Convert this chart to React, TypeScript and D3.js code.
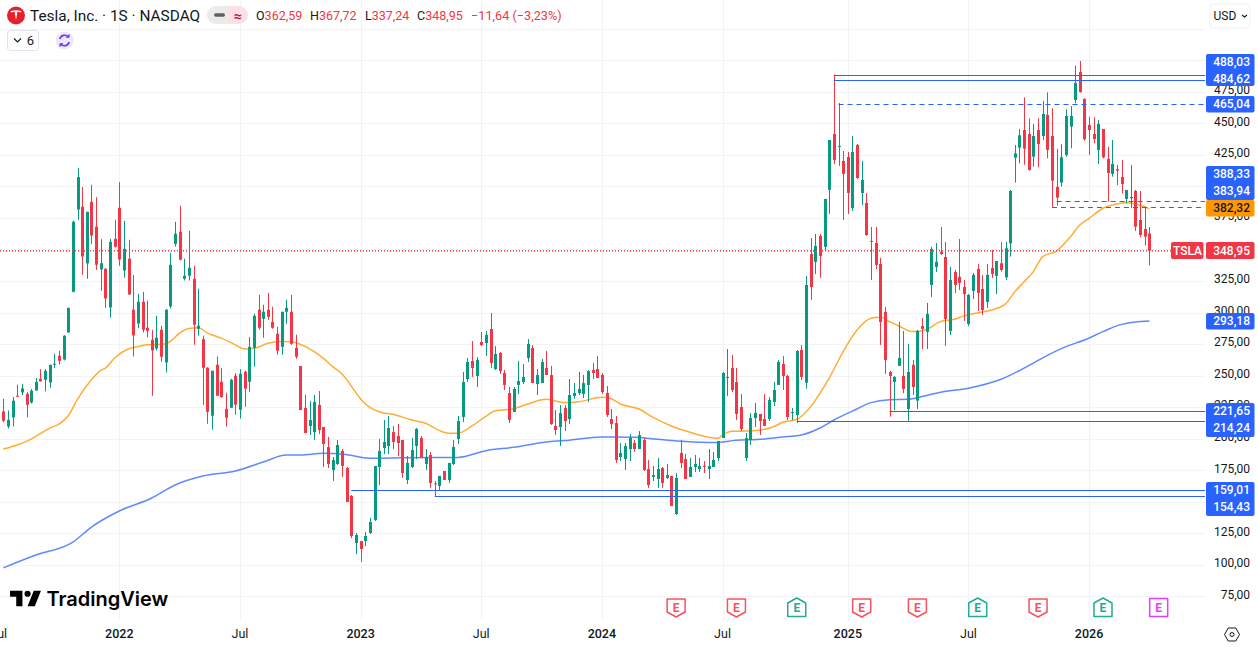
import React from "react";
import * as d3 from "d3";

// weekly TSLA bars, [open, high, low, close]
const candles: number[][] = [
  [221.6, 231.6, 213.1, 214.2], [209.7, 222.4, 208.1, 215], [216.9, 233, 209.7, 230.1], [234, 242.7, 233.5, 233.5],
  [236.7, 243.5, 234.5, 239.8], [235.6, 236.9, 216.9, 226.9], [228.7, 239.3, 227.9, 238], [238.2, 248, 238.2, 245.1],
  [247.5, 255.1, 245.4, 245.4], [246.7, 255.1, 237.5, 253.8], [244.6, 258.6, 240.4, 258.6], [258.8, 267.3, 255.9, 259.4],
  [265.7, 269.7, 258.8, 261.7], [262.8, 281.9, 262, 281.6], [284.2, 303.7, 284, 303.7], [316.4, 372.7, 315.9, 371.9],
  [381.6, 414.4, 373.5, 407.3], [383.8, 399.3, 329.9, 344.4], [338.9, 379.8, 326.7, 379.8], [387.7, 401.2, 354.4, 361],
  [367.9, 391.4, 333.8, 337.8], [334.1, 358.1, 317.2, 339.1], [334.6, 335.2, 303.7, 311.1], [304, 358.4, 295.8, 356],
  [358.4, 373.5, 351.5, 352.1],
  // 2022
  [383, 403.3, 337, 342], [333.3, 372.7, 327.5, 350.5], [342.6, 357.6, 314, 314.3], [302.2, 329.6, 265.2, 281.8],
  [291.3, 314.8, 287.6, 308.5], [308.5, 316.4, 284.2, 286.3], [287.9, 309.3, 280.2, 285.5], [278.4, 286.3, 234, 269.9],
  [271.5, 297.4, 269.9, 280], [286.3, 289.5, 260.9, 264.9], [260.4, 302.7, 252.5, 302.2], [304.8, 347.3, 303.2, 337.8],
  [354.4, 371.9, 352.3, 362.4], [364, 384.6, 341.2, 341.8], [326.7, 342.6, 325.4, 329.1], [329.1, 364.7, 325.4, 335.4],
  [326.7, 337, 274.4, 290.3], [287.1, 318.8, 281.6, 289.5], [278.9, 281.6, 226.9, 256.2], [256.2, 256.7, 211.8, 221.3],
  [218.2, 253.8, 207.1, 253.8], [258.6, 265.2, 234, 234], [245.1, 255.9, 232.4, 233], [223.7, 236.4, 209.5, 216.6],
  [224.5, 247.5, 224.5, 246.7], [249.9, 252, 219, 226.9], [222.9, 255.1, 216, 251.4], [253, 253.8, 225.3, 239.6],
  [245.1, 280.5, 237.2, 272.8], [272, 299, 257, 297.4], [302.2, 314, 286.3, 287.9], [295, 306.1, 280, 300.6],
  [302.2, 315.6, 294.2, 296.6], [292.6, 304.5, 287.1, 287.9], [283.1, 288.7, 266.5, 269.7], [272.8, 300.6, 266.5, 300.6],
  [300.6, 310.1, 291.1, 303.7], [300.6, 314, 274.4, 275.2], [272, 282.4, 263.3, 264.9], [257.6, 257.6, 222.7, 222.7],
  [224.3, 234.9, 204.3, 204.5], [210.1, 229.9, 203, 214.8], [205.3, 234.6, 199, 229.1], [226.7, 237.8, 203.7, 206.9],
  [209.3, 209.3, 177.6, 195.8], [193.4, 201.4, 176.8, 180], [175.2, 185.5, 166.5, 183.1], [180, 199, 179.2, 195],
  [190.3, 191.8, 169.7, 178.4], [176.8, 177.6, 149.9, 149.9], [154.6, 155.4, 121.3, 122.9], [117.4, 125.3, 108.7, 123.7],
  // 2023
  [118.9, 118.9, 102.3, 112.6], [118.9, 126.1, 115, 122.9], [125.3, 137.2, 124.5, 134], [135.6, 178.4, 134.8, 178.4],
  [177.6, 199.8, 163.3, 190.3], [192.6, 214.8, 187.9, 197.4], [194.2, 218, 187.9, 208.5], [205.3, 210.1, 191.8, 197.4],
  [202.2, 211.7, 186.3, 196.6], [199, 199, 168.9, 172.8], [167.3, 186.3, 164.1, 180.8], [177.6, 200.6, 176.8, 191],
  [194.2, 208.5, 183.9, 207.7], [200.6, 202.2, 184.7, 184.7], [180, 191.8, 175.2, 185.5], [187.1, 189.5, 161, 164.9],
  [164.6, 166.5, 154.4, 164.1], [162.5, 170.5, 159.4, 170.5], [174.4, 174.4, 167.3, 167.3], [167.3, 180.8, 164.9, 180.8],
  [180, 199, 179.2, 193.4], [199.8, 218, 195.8, 214], [217.2, 252.9, 213.2, 244.9], [247.3, 263.9, 244.9, 260.8],
  [261.6, 277.4, 248.9, 256], [249.7, 264.7, 241, 262.4], [276.6, 284.5, 273.4, 274.2], [275.8, 285.3, 265.5, 282.2],
  [286.9, 299.6, 256, 260], [255.2, 273.4, 254.4, 267.1], [267.9, 268.7, 251.3, 253.6], [252.1, 254.4, 238.6, 242.6],
  [236.2, 241, 212.4, 214.8], [221.2, 241, 221.2, 239.4], [242.6, 261.6, 235.4, 245.7], [244.9, 259.2, 243.3, 248.9],
  [263.9, 279, 260.8, 275], [271.9, 274.2, 244.1, 244.1], [243.3, 255.2, 234.6, 250.5], [244.1, 263.2, 244.1, 260.8],
  [256, 269.5, 250.5, 250.5], [250.5, 257.6, 210.9, 211.7], [210.1, 222.7, 203, 206.9], [209.3, 226.7, 194.2, 220.4],
  [224.3, 226.7, 206.1, 214], [215.6, 247.3, 211.7, 234.6], [233.8, 244.1, 231.5, 236.2], [236.2, 252.9, 234.6, 239.4],
  [235.4, 250.5, 232.3, 244.1], [242.6, 254.4, 229.1, 253.6], [254.4, 260, 247.3, 252.1], [255.2, 265.5, 248.1, 248.1],
  // 2024
  [250.5, 252.1, 235.4, 237], [236.2, 241.8, 217.2, 218.8], [215.6, 223.5, 207.7, 211.7], [212.4, 218, 180.8, 183.1],
  [185.5, 196.6, 182.3, 188.7], [183.9, 196.6, 175.2, 194.2], [191.8, 203.7, 182.3, 200.6], [196.6, 199, 189.5, 191.8],
  [191.8, 206.1, 191.8, 202.9], [199, 200.6, 174.4, 175.2], [176, 183.1, 161, 163.3], [169.7, 178.4, 166.5, 171.2],
  [168.1, 184.7, 161, 176], [176.8, 177.6, 161, 164.9], [168.9, 180, 168.1, 171.2], [170.5, 170.5, 146.7, 146.7],
  [140.3, 172.8, 139.6, 168.9], [188.7, 199, 176.8, 180.8], [183.9, 187.9, 168.1, 168.1], [169.7, 184.7, 169.7, 177.6],
  [177.6, 187.1, 173.6, 180], [176, 184.7, 173.6, 178.4], [178.4, 182.3, 172.8, 177.9], [176, 191.8, 168.1, 178.4],
  [177.6, 189.5, 177.6, 183.1], [184.7, 198.2, 182.3, 198.2], [200.6, 252.9, 200.6, 252.1], [248.1, 271.1, 233.8, 248.9],
  [256, 266.3, 237, 238.6], [244.9, 256, 214.8, 219.6], [225.1, 235.4, 206.1, 207.7], [184.7, 204.5, 182.3, 200.6],
  [199, 220.4, 195, 216.4], [216.4, 228.3, 209.3, 220.4], [219.6, 219.6, 203, 214], [215.6, 235.4, 210.1, 210.1],
  [215.6, 233, 214, 230.7], [229.1, 244.9, 225.9, 238.6], [242.6, 262.4, 242.6, 260.8], [259.2, 265.5, 238.6, 249.7],
  [249.7, 250.5, 214.8, 217.2], [220.4, 224.3, 214.8, 221.2], [218.8, 270.3, 212.4, 269.5], [270.3, 274.2, 246.5, 248.9],
  [244.4, 328.9, 239.7, 321.8], [346.4, 359.1, 310, 320.2], [340.1, 362.2, 330.5, 352.7], [360.7, 362.2, 327.4, 344.8],
  [352, 390, 348.8, 390], [397.1, 436.7, 378.1, 436.7], [441.5, 488.5, 417.7, 420.9], [431.2, 466, 416.1, 432],
  [420.1, 428, 373.3, 409.8],
  // 2025
  [423.2, 427.2, 378.1, 394.7], [382.8, 439.9, 380.5, 427.2], [432.8, 433.5, 405.8, 406.6], [394.7, 420.1, 385.2, 405],
  [386.8, 394.7, 360.7, 361.4], [356.7, 367.8, 325.8, 355.9], [355.1, 367.8, 334.5, 337.7], [338.5, 343.2, 274.3, 292.5],
  [300.4, 304.4, 251.3, 262.4], [252.9, 253.7, 217.5, 249.7], [245, 249.7, 222.8, 248.9], [257.7, 292.5, 257.7, 264],
  [249.7, 285.4, 236, 239.4], [223.6, 275.1, 214.24, 252.9], [258.5, 262.4, 234.7, 241], [230.2, 286.2, 223.6, 285.4],
  [289.3, 295.7, 271.1, 287], [284.6, 307.6, 271.1, 298.9], [321.8, 351.9, 312.3, 350.4], [336.1, 355.1, 332.1, 340.1],
  [348, 367.8, 345.6, 346.4], [344, 355.9, 273.5, 294.9], [285.4, 336.1, 282.2, 325.8], [332.1, 333.7, 315.5, 321.8],
  [328.2, 358.3, 317.9, 323.4], [320.2, 325.8, 293.3, 314.7], [290.9, 314.7, 289.3, 313.9], [317.1, 331.3, 310.7, 329.8],
  [334.5, 338.5, 301.2, 315.5], [318.7, 329.8, 298, 302], [308.4, 338.5, 303.6, 329.8], [335.3, 349.6, 327.4, 330.6],
  [329, 340.8, 314.7, 340.8], [339, 355.6, 332.4, 333.7], [327.9, 356.1, 325.8, 350.9], [354.8, 397.1, 344.3, 396.3],
  [422.7, 432.7, 402.9, 426.1], [430.6, 445.4, 418.2, 440.4], [444.6, 470.5, 417.1, 429.8], [441.4, 453.9, 412.4, 412.9],
  [423.5, 449.4, 415.6, 439.9], [444.6, 453.9, 415, 433.5], [439.9, 467.6, 436.7, 457.3], [456.5, 474.5, 422.2, 428.8],
  [439.9, 461.8, 383.9, 404.5], [399.5, 429.6, 384.7, 391], [402.9, 433.3, 399.7, 423], [424.8, 461, 423.5, 455.7],
  [447.3, 463.6, 430.1, 455.7], [468.4, 495.6, 465.7, 481.9], [490.6, 499.3, 474.2, 474.7], [469.2, 469.7, 436.2, 437.2],
  // 2026
  [448.6, 455.2, 424.8, 444.6], [441.4, 454.7, 434.1, 437.5], [428.8, 452.5, 417.7, 449.4], [445.4, 445.4, 422.2, 423],
  [421.6, 431.4, 387.8, 410.5], [409.8, 436.7, 407.6, 417.7], [413.5, 416.9, 401, 412.4], [407.4, 420.8, 394.4, 401.8],
  [390, 397.1, 386.5, 397.1], [390.5, 416.9, 382.6, 391.5], [396.3, 397.1, 364.6, 368], [373.3, 396.3, 359.6, 361.4],
  [366.2, 383.9, 353, 360.1], [362.59, 367.72, 337.24, 348.95],
];

// moving averages sampled along the curve, [bar, value]
const ma50Points: number[][] = [
  [0, 191.8], [3, 195], [6, 199.7], [10, 208.4], [12, 211.6], [14, 218.2], [16, 231.4], [19, 246.7], [21, 254.1],
  [22, 255.9], [24, 263.9], [27, 271.3], [29, 273.1], [31, 274.4], [35, 275], [36, 277.1], [38, 283.7], [40, 287.4],
  [42, 287.9], [44, 283.7], [47, 279.7], [50, 274.4], [52, 271], [55, 272.6], [57, 275.7], [60, 277.1], [62, 276.8],
  [64, 274.8], [67, 269], [69, 263.7], [71, 257.1], [73, 251.3], [76, 236.5], [77, 231.5], [79, 224.9], [81, 221.4],
  [84, 219.3], [88, 214.8], [91, 212.2], [94, 206.4], [96, 204.3], [98, 204.3], [101, 210.1], [104, 217.7], [106, 222.2],
  [110, 223.8], [113, 227.5], [117, 231.2], [121, 228.6], [124, 229.3], [129, 232.8], [131, 231.7], [133, 227.5],
  [137, 223.5], [140, 216.9], [144, 210.1], [148, 205.1], [152, 201.1], [154, 200.3], [155, 203], [157, 205.9],
  [160, 206.1], [164, 207.4], [166, 209.5], [168, 213], [171, 215.3], [174, 225.4], [176, 236], [178, 248], [181, 269],
  [184, 286.1], [187, 295.4], [189, 296.2], [191, 292.7], [193, 289.3], [196, 284.9], [197, 284.9], [199, 286.7],
  [202, 292.8], [205, 294.6], [207, 297.3], [211, 300.4], [213, 302], [216, 306.8], [218, 316.5], [220, 324.4],
  [222, 332.4], [224, 344.3], [227, 348.7], [230, 360.1], [232, 369.3], [234, 374.6], [237, 382.6], [240, 386],
  [242, 387], [244, 386], [247, 382.32],
];
const ma200Points: number[][] = [
  [0, 97.6], [7, 107.8], [15, 118.1], [19, 130], [25, 142.7], [32, 153], [37, 163.3], [43, 170.4], [50, 174.4], [56, 181.5],
  [61, 187.1], [64, 187.1], [69, 188.4], [73, 187.9], [79, 184.5], [86, 185], [93, 185.2], [98, 185.2], [104, 190.5],
  [110, 193.2], [117, 197.4], [121, 198.5], [129, 201.4], [136, 201.1], [141, 199.5], [147, 197.7], [153, 196.9],
  [158, 198.7], [163, 199.5], [168, 201.4], [172, 203], [176, 208.5], [179, 214.8], [183, 221.9], [187, 228.6],
  [191, 230.9], [195, 231.2], [198, 233.4], [202, 236.8], [208, 240], [215, 247.1], [223, 262], [225, 266], [229, 273],
  [233, 278.2], [237, 284.8], [241, 290.6], [247, 293.18],
];

const gridPrices = [75, 100, 125, 150, 175, 200, 225, 250, 275, 300, 325, 350, 375, 400, 425, 450, 475, 500, 525];
// 150, 350 and 400 sit fully behind the price tags, so they get no label
const priceTicks = [75, 100, 125, 175, 200, 225, 250, 275, 300, 325, 375, 425, 450, 475];

const timeTicks = [
  { bar: -1, label: "Jul", year: false },
  { bar: 25, label: "2022", year: true },
  { bar: 51, label: "Jul", year: false },
  { bar: 77, label: "2023", year: true },
  { bar: 103, label: "Jul", year: false },
  { bar: 129, label: "2024", year: true },
  { bar: 155, label: "Jul", year: false },
  { bar: 182, label: "2025", year: true },
  { bar: 208, label: "Jul", year: false },
  { bar: 234, label: "2026", year: true },
];

// horizontal levels: price, bar where the line begins, dashed or not
const levels = [
  { price: 488.03, from: 179, dashed: false },
  { price: 484.62, from: 179, dashed: false },
  { price: 465.04, from: 180, dashed: true },
  { price: 388.33, from: 227, dashed: true },
  { price: 383.94, from: 226, dashed: true },
  { price: 221.65, from: 191, dashed: false },
  { price: 214.24, from: 171, dashed: false },
  { price: 159.01, from: 75, dashed: false },
  { price: 154.43, from: 93, dashed: false },
];

const earnings = [
  { bar: 145, kind: "miss" }, { bar: 158, kind: "miss" }, { bar: 171, kind: "beat" },
  { bar: 185, kind: "miss" }, { bar: 197, kind: "miss" }, { bar: 210, kind: "beat" },
  { bar: 223, kind: "miss" }, { bar: 237, kind: "beat" }, { bar: 249, kind: "next" },
];

const lastClose = 348.95;
const legendValues = [
  { key: "O", val: "362,59", x: 256 },
  { key: "H", val: "367,72", x: 310 },
  { key: "L", val: "337,24", x: 365 },
  { key: "C", val: "348,95", x: 417 },
];

const UP = "#089981";
const DOWN = "#f23645";
const BLUE = "#2962ff";
const TEXT = "#131722";
const GRID = "#f2f3f5";
const FONT = "Roboto, sans-serif";
const PANE_RIGHT = 1205;
const PANE_BOTTOM = 620;

const x = d3.scaleLinear().domain([0, 247]).range([3.3, 1149.4]);
const y = d3.scaleLinear().domain([75, 475]).range([596.45, 91.65]);

const fmt = (v: number) => v.toFixed(2).replace(".", ",");
const crisp = (v: number) => Math.round(v) + 0.5;

const maLine = d3
  .line<number[]>()
  .x((d) => x(d[0]))
  .y((d) => y(d[1]))
  .curve(d3.curveMonotoneX);

// right hand price tags, stacked the way the chart packs them
const PriceTag = ({ top, h, fill, rows, color = "#fff" }: any) => (
  <g>
    <rect x={1206} y={top} width={48.5} height={h} rx={2} fill={fill} />
    {rows.map((r: any) => (
      <text key={r.v} x={1250} y={r.y} dy="0.36em" textAnchor="end" fill={color} fontSize={12} fontWeight={500}>
        {fmt(r.v)}
      </text>
    ))}
  </g>
);

const EarningsMark = ({ bar, kind }: { bar: number; kind: string }) => {
  const cx = x(bar);
  const color = kind === "miss" ? "#f7525f" : kind === "beat" ? "#22ab94" : "#e040fb";
  const t = 598;
  let d = `M${cx - 9} ${t + 0.5}h18v18h-18z`;
  if (kind === "miss") d = `M${cx - 9} ${t + 1}h18v13l-9 5l-9 -5z`;
  if (kind === "beat") d = `M${cx} ${t}l9 5v13.5h-18v-13.5z`;
  return (
    <g>
      <path d={d} fill="#fff" stroke={color} strokeWidth={1.5} strokeLinejoin="round" />
      <text x={cx} y={t + 10} dy="0.36em" textAnchor="middle" fill={color} fontSize={12} fontWeight={700}>
        E
      </text>
    </g>
  );
};

export default function App() {
  const priceY = y(lastClose);
  return (
    <svg
      width={1258}
      height={647}
      viewBox="0 0 1258 647"
      style={{ position: "absolute", left: 0, top: 0, display: "block", background: "#fff" }}
      fontFamily={FONT}
    >
      {/* grid */}
      <g stroke={GRID} strokeWidth={1}>
        {gridPrices.map((p) => (
          <line key={p} x1={0} x2={PANE_RIGHT} y1={crisp(y(p))} y2={crisp(y(p))} />
        ))}
        {timeTicks.map((t) => (
          <line key={t.bar} x1={crisp(x(t.bar))} x2={crisp(x(t.bar))} y1={0} y2={PANE_BOTTOM} />
        ))}
      </g>

      {/* moving averages */}
      <path d={maLine(ma200Points) || ""} fill="none" stroke={BLUE} strokeOpacity={0.75} strokeWidth={1.5} />
      <path d={maLine(ma50Points) || ""} fill="none" stroke="#ff9800" strokeOpacity={0.8} strokeWidth={1.5} />

      {/* candles */}
      {candles.map((c, i) => {
        const [o, h, l, cl] = c;
        const color = cl >= o ? UP : DOWN;
        const cx = Math.round(x(i));
        const top = y(Math.max(o, cl));
        const bot = y(Math.min(o, cl));
        return (
          <g key={i} fill={color}>
            <rect x={cx} y={y(h)} width={1} height={y(l) - y(h)} />
            <rect x={cx - 1} y={top} width={3} height={Math.max(bot - top, 1)} />
          </g>
        );
      })}

      {/* levels */}
      {levels.map((lv) => (
        <line
          key={lv.price}
          x1={x(lv.from)}
          x2={PANE_RIGHT}
          y1={crisp(y(lv.price))}
          y2={crisp(y(lv.price))}
          stroke={BLUE}
          strokeWidth={1}
          strokeDasharray={lv.dashed ? "5 4" : undefined}
        />
      ))}

      {/* last price */}
      <line
        x1={0}
        x2={1171}
        y1={priceY}
        y2={priceY}
        stroke={DOWN}
        strokeWidth={1.6}
        strokeDasharray="1 2"
      />

      {/* earnings */}
      {earnings.map((e) => (
        <EarningsMark key={e.bar} bar={e.bar} kind={e.kind} />
      ))}

      {/* price axis */}
      {priceTicks.map((p) => (
        <text key={p} x={1250} y={y(p) - 2} dy="0.36em" textAnchor="end" fill={TEXT} fontSize={12}>
          {fmt(p)}
        </text>
      ))}
      <PriceTag top={54} h={32} fill={BLUE} rows={[{ v: 488.03, y: 61.5 }, { v: 484.62, y: 78.5 }]} />
      <PriceTag top={96} h={16.5} fill={BLUE} rows={[{ v: 465.04, y: 104 }]} />
      <PriceTag top={166} h={34} fill={BLUE} rows={[{ v: 388.33, y: 173.5 }, { v: 383.94, y: 190.5 }]} />
      <PriceTag top={200} h={16.5} fill="#ff9800" color="#131722" rows={[{ v: 382.32, y: 208 }]} />
      <PriceTag top={313} h={16.5} fill={BLUE} rows={[{ v: 293.18, y: 321 }]} />
      <PriceTag top={403} h={34} fill={BLUE} rows={[{ v: 221.65, y: 411 }, { v: 214.24, y: 428 }]} />
      <PriceTag top={482} h={34} fill={BLUE} rows={[{ v: 159.01, y: 490 }, { v: 154.43, y: 507 }]} />
      <PriceTag top={242} h={17} fill={DOWN} rows={[{ v: lastClose, y: 250.5 }]} />
      <rect x={1171} y={242} width={32.5} height={17} rx={2} fill={DOWN} />
      <text x={1187.5} y={250.5} dy="0.36em" textAnchor="middle" fill="#fff" fontSize={12} fontWeight={500}>
        TSLA
      </text>

      {/* time axis */}
      {timeTicks.map((t) => (
        <text
          key={t.bar}
          x={x(t.bar)}
          y={633}
          dy="0.36em"
          textAnchor="middle"
          fill={TEXT}
          fontSize={12.5}
          fontWeight={t.year ? 500 : 400}
        >
          {t.label}
        </text>
      ))}

      {/* legend */}
      <circle cx={16} cy={15.5} r={9} fill="#e8202c" />
      <path
        d="M10.5 11.3c3.4-1.3 7.6-1.3 11 0l-.5 1.3c-1.2-.5-2.6-.8-3.6-.9l-1.4 8.6-1.4-8.6c-1 .1-2.4.4-3.6.9z"
        fill="#fff"
      />
      <text x={30} y={15.5} dy="0.36em" fontSize={15.4} fill={TEXT}>
        Tesla, Inc. · 1S · NASDAQ
      </text>
      <path d="M216 6h12v18h-12a9 9 0 0 1 0-18z" fill="#ebebeb" />
      <path d="M228 6h11a9 9 0 0 1 0 18h-11z" fill="#fde0e6" />
      <rect x={214} y={13.2} width={11} height={3.6} rx={1.8} fill="#5d606b" />
      <text x={238} y={15.5} dy="0.36em" textAnchor="middle" fontSize={14} fontWeight={700} fill="#b2124f">
        ≈
      </text>
      {legendValues.map((v) => (
        <text key={v.key} x={v.x} y={15.5} dy="0.36em" fontSize={12.5}>
          <tspan fill={TEXT}>{v.key}</tspan>
          <tspan fill={DOWN}>{v.val}</tspan>
        </text>
      ))}
      <text x={471} y={15.5} dy="0.36em" fontSize={12.7} fill={DOWN}>
        −11,64 (−3,23%)
      </text>
      <rect x={7.5} y={30.5} width={31} height={20} rx={3} fill="#fff" stroke="#e0e3eb" />
      <path d="M14 38.5l3.5 3.5l3.5-3.5" fill="none" stroke={TEXT} strokeWidth={1.1} />
      <text x={30.5} y={40.5} dy="0.36em" textAnchor="middle" fontSize={13} fill={TEXT}>
        6
      </text>
      <circle cx={64.5} cy={40.5} r={9} fill="#ede7f6" />
      <g fill="none" stroke="#6a3df0" strokeWidth={1.7}>
        <path d="M59.8 39a5 5 0 0 1 8.6-2" />
        <path d="M69.2 42a5 5 0 0 1-8.6 2" />
      </g>
      <path d="M69.5 33.8v4h-4z" fill="#6a3df0" />
      <path d="M59.5 47.2v-4h4z" fill="#6a3df0" />

      {/* currency */}
      <rect x={1210} y={4} width={40} height={24} rx={4} fill="#fff" stroke="#eef0f3" />
      <text x={1213.5} y={15.5} dy="0.36em" fontSize={12} fill={TEXT}>
        USD
      </text>
      <path d="M1242 15l2.5 2l2.5-2" fill="none" stroke={TEXT} strokeWidth={1.1} />

      {/* settings */}
      <path d="M1228.2 628h7.6l3.7 6.5l-3.7 6.5h-7.6l-3.7-6.5z" fill="none" stroke={TEXT} strokeWidth={1} />
      <circle cx={1232} cy={634.5} r={2} fill="none" stroke={TEXT} strokeWidth={1} />

      {/* watermark */}
      <g transform="translate(8,584.5) scale(1.03)" fill="#000">
        <path d="M14 6H2v6h6v9h6V6zm12 15h-7l6-15h7l-6 15zm-7-9a3 3 0 1 0 0-6 3 3 0 0 0 0 6z" />
      </g>
      <text x={46.5} y={606} fontFamily="Inter, Roboto, sans-serif" fontSize={20} fontWeight={600} fill="#000">
        TradingView
      </text>
    </svg>
  );
}
